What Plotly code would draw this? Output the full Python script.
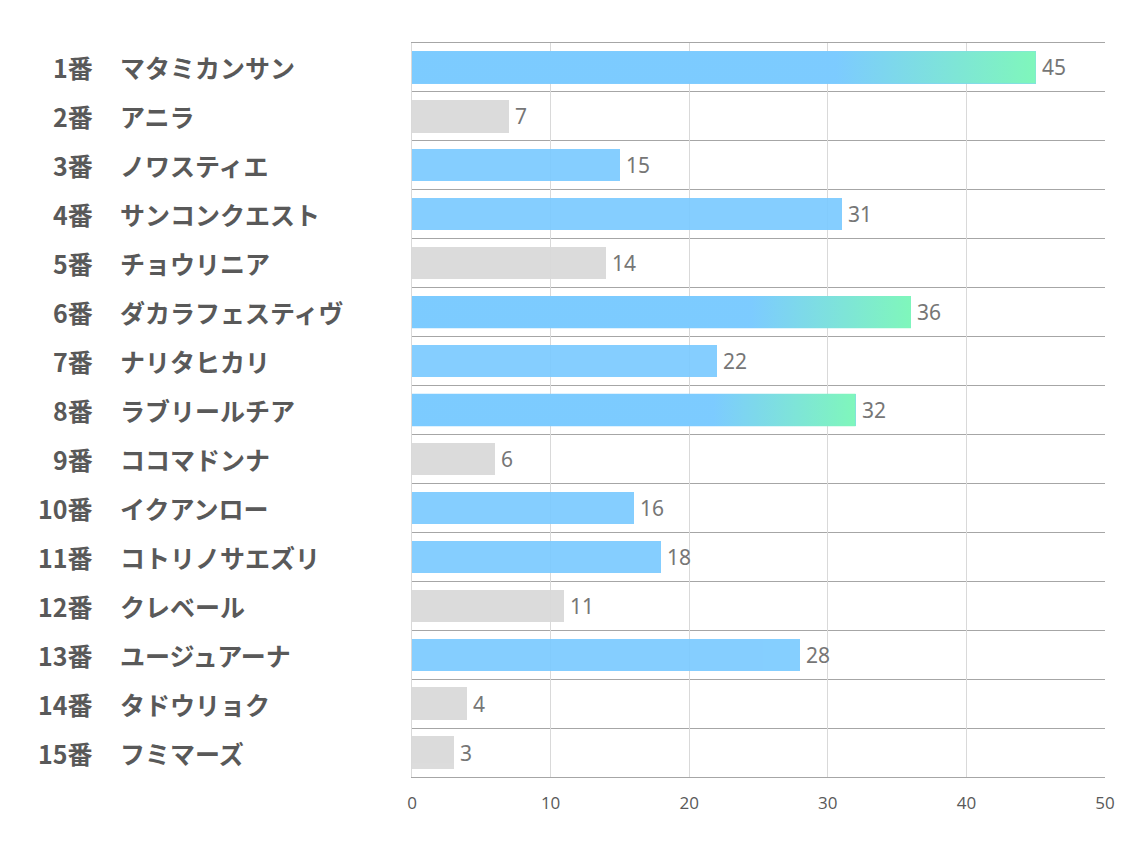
import plotly.graph_objects as go

numbers = ["1番", "2番", "3番", "4番", "5番", "6番", "7番", "8番", "9番", "10番",
           "11番", "12番", "13番", "14番", "15番"]
names = ["マタミカンサン", "アニラ", "ノワスティエ", "サンコンクエスト", "チョウリニア",
         "ダカラフェスティヴ", "ナリタヒカリ", "ラブリールチア", "ココマドンナ", "イクアンロー",
         "コトリノサエズリ", "クレベール", "ユージュアーナ", "タドウリョク", "フミマーズ"]
values = [45, 7, 15, 31, 14, 36, 22, 32, 6, 16, 18, 11, 28, 4, 3]
highlight = [True, False, True, True, False, True, True, True, False, True,
             True, False, True, False, False]
gradient = [True, False, False, False, False, True, False, True, False, False,
            False, False, False, False, False]

BLUE = "rgb(124,203,255)"
GREEN = "rgb(127,248,185)"
GRAY = "rgb(217,217,217)"
BAR_W = 0.66

ypos = list(range(len(values)))
colors = [BLUE if h else GRAY for h in highlight]

fig = go.Figure()
fig.add_trace(go.Bar(
    x=values, y=ypos, orientation="h", width=BAR_W,
    marker=dict(color=colors, line=dict(width=0)), opacity=0.93,
    showlegend=False, hoverinfo="skip",
))

for i, (v, g) in enumerate(zip(values, gradient)):
    if not g:
        continue
    y0, y1 = i - BAR_W / 2, i + BAR_W / 2
    fig.add_trace(go.Scatter(
        x=[0, v, v, 0, 0], y=[y0, y0, y1, y1, y0],
        mode="lines", line=dict(width=0), fill="toself",
        fillgradient=dict(type="horizontal",
                          colorscale=[[0, BLUE], [0.68, BLUE], [1, GREEN]]),
        showlegend=False, hoverinfo="skip", opacity=0.97,
    ))

# page body has an 8px margin; figure coordinates are offset by it
L, R, T, B = 404, 37, 35, 81
W, H = 1134, 850
pw = W - L - R
label_font = dict(family="Noto Sans CJK JP, sans-serif", size=25, color="#595959")
value_font = dict(family="Noto Sans, Open Sans, sans-serif", size=21, color="#767676")
ann = []
for i, (n, nm, v) in enumerate(zip(numbers, names, values)):
    ann.append(dict(xref="paper", yref="y", x=(87 - L) / pw, y=i, text=f"<b>{n}</b>",
                    showarrow=False, xanchor="right", yanchor="middle", font=label_font))
    ann.append(dict(xref="paper", yref="y", x=(110 - L) / pw, y=i, text=f"<b>{nm}</b>",
                    showarrow=False, xanchor="left", yanchor="middle", font=label_font))
    ann.append(dict(xref="x", yref="y", x=v, y=i, text=str(v), xshift=4,
                    showarrow=False, xanchor="left", yanchor="middle", font=value_font))

fig.update_layout(
    width=W, height=H, margin=dict(l=L, r=R, t=T, b=B),
    plot_bgcolor="white", paper_bgcolor="white",
    annotations=ann, bargap=0,
    xaxis=dict(range=[0, 50], dtick=10, showgrid=True, gridcolor="#d9d9d9", gridwidth=1,
               zeroline=False, showline=True, mirror=True, linecolor="#a6a6a6", linewidth=1,
               ticks="", ticklabelstandoff=11,
               tickfont=dict(family="Open Sans, Noto Sans, sans-serif", size=17, color="#595959")),
    yaxis=dict(range=[len(values) - 0.5, -0.5], showticklabels=False, showgrid=False,
               zeroline=False, showline=True, linecolor="#d9d9d9", ticks="",
               minor=dict(tick0=0.5, dtick=1, showgrid=True, gridcolor="#a6a6a6", gridwidth=1)),
)

fig.write_html("out.html")
